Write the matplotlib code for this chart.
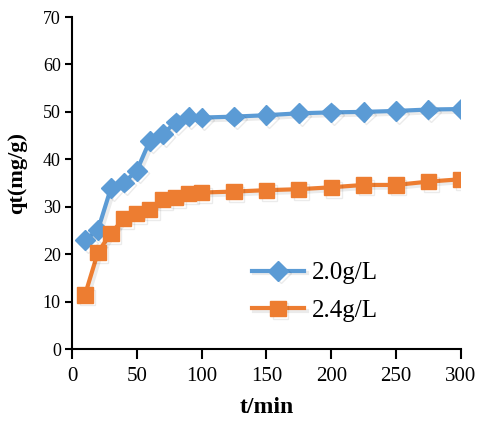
import matplotlib
matplotlib.use("Agg")
import matplotlib.pyplot as plt
import matplotlib.patheffects as pe

t = [10, 20, 30, 40, 50, 60, 70, 80, 90, 100, 125, 150, 175, 200, 225, 250, 275, 300]
q_20 = [23.0, 25.1, 33.9, 35.1, 37.6, 43.9, 45.3, 47.8, 49.0, 48.8, 49.0, 49.3, 49.7, 49.9, 50.0, 50.2, 50.5, 50.6]
q_24 = [11.4, 20.4, 24.4, 27.5, 28.6, 29.4, 31.5, 32.0, 32.8, 33.0, 33.2, 33.5, 33.7, 34.1, 34.6, 34.6, 35.3, 35.8]
labels = ["2.0g/L", "2.4g/L"]

plt.rcParams['font.family'] = ['Liberation Serif', 'DejaVu Serif']

fig = plt.figure(figsize=(4.81, 4.32), dpi=100)
ax = fig.add_axes([0.1497, 0.192, 0.8083, 0.7686])

shadow = [pe.SimpleLineShadow(offset=(2, -2), alpha=0.08, shadow_color='black'), pe.Normal()]
ax.plot(t, q_20, color='#5B9BD5', lw=3, marker='D', ms=10, label=labels[0], path_effects=shadow)
ax.plot(t, q_24, color='#ED7D31', lw=3, marker='s', ms=11, label=labels[1], path_effects=shadow)

ax.set_xlim(0, 300)
ax.set_ylim(0, 70)
ax.set_xticks(range(0, 301, 50))
ax.set_yticks(range(0, 71, 10))
for s in ['top', 'right']:
    ax.spines[s].set_visible(False)
for s in ['left', 'bottom']:
    ax.spines[s].set_linewidth(1.5)
ax.tick_params(axis='x', direction='out', length=7, width=1.5, labelsize=15, pad=6)
ax.tick_params(axis='y', direction='out', length=5, width=1.5, labelsize=13, pad=3)

ax.set_xlabel('t/min', fontsize=17, fontweight='bold', labelpad=8)
ax.set_ylabel('qt(mg/g)', fontsize=16, fontweight='bold')
ax.yaxis.set_label_coords(-0.115, 0.53)

ax.legend(loc='upper left', bbox_to_anchor=(0.43, 0.30), frameon=False, fontsize=18,
          handlelength=2.1, handletextpad=0.3, labelspacing=0.6, borderpad=0)

fig.savefig('out.png', dpi=100)
